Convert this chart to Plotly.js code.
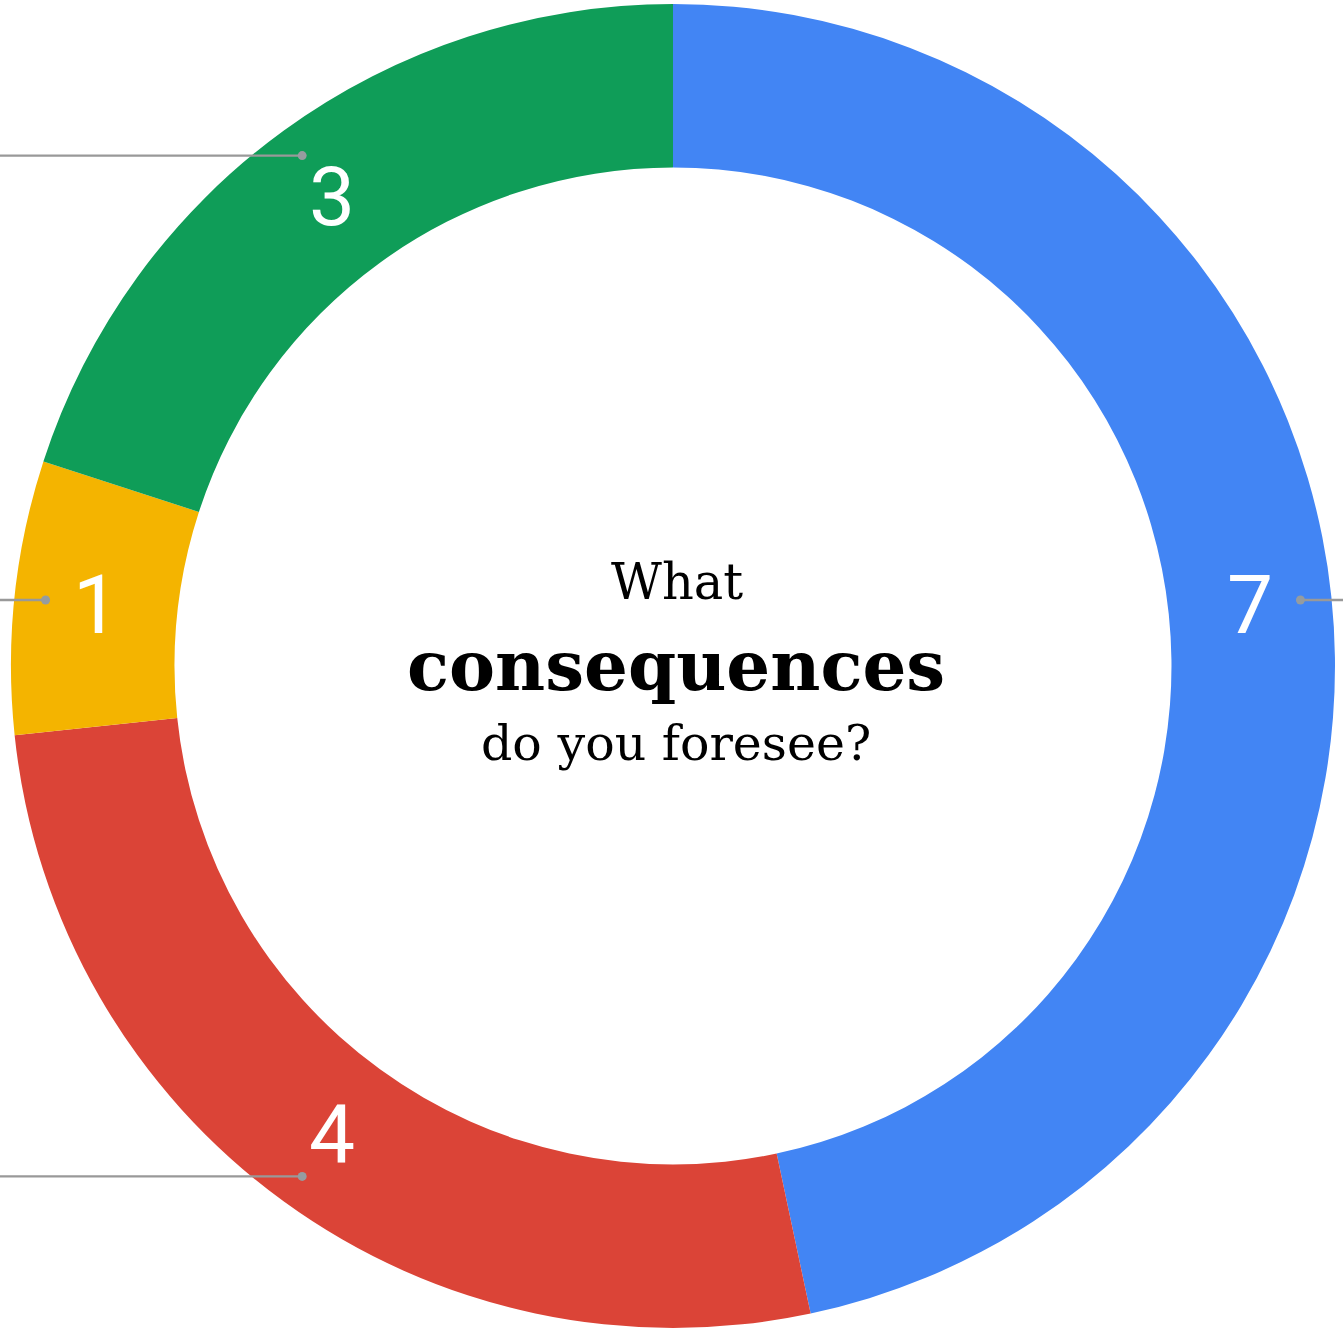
<!DOCTYPE html>
<html>
<head>
<meta charset="utf-8">
<script src="https://cdn.plot.ly/plotly-3.0.1.min.js"></script>
<style>html,body{margin:0;padding:0;background:#fff;}#chart{width:1343px;height:1332px;}</style>
</head>
<body>
<div id="chart"></div>
<script>
// Data
var categories = ["Answer A", "Answer B", "Answer C", "Answer D"];
var values = [7, 4, 1, 3];
var colors = ["#4285F4", "#DB4437", "#F4B400", "#0F9D58"];
var centerLines = ["What", "consequences", "do you foresee?"];

var W = 1343, H = 1332;
var cx = 673, cy = 666, R = 662;
var domX = [(cx - R) / W, (cx + R) / W];
var domY = [1 - (cy + R) / H, 1 - (cy - R) / H];

// Leader lines computed from the slice mid-angles
var total = values.reduce(function (a, b) { return a + b; }, 0);
var shapes = [];
var cum = 0;
for (var i = 0; i < values.length; i++) {
  var mid = (cum + values[i] / 2) / total * 2 * Math.PI;
  cum += values[i];
  var rDot = 0.953 * R;
  var px = cx + rDot * Math.sin(mid);
  var py = cy - rDot * Math.cos(mid);
  var xEnd = px < cx ? 0 : W;
  shapes.push({
    type: "line", xref: "paper", yref: "paper",
    x0: px / W, x1: xEnd / W, y0: 1 - py / H, y1: 1 - py / H,
    line: { color: "#999999", width: 2.4 }
  });
  var d = 4.5;
  shapes.push({
    type: "circle", xref: "paper", yref: "paper",
    x0: (px - d) / W, x1: (px + d) / W, y0: 1 - (py + d) / H, y1: 1 - (py - d) / H,
    fillcolor: "#959ca0", line: { width: 0 }
  });
}

var trace = {
  type: "pie",
  labels: categories,
  values: values,
  marker: { colors: colors, line: { width: 0 } },
  hole: 0.753,
  sort: false,
  direction: "clockwise",
  rotation: 0,
  textinfo: "value",
  textposition: "inside",
  insidetextorientation: "horizontal",
  insidetextfont: { family: "Roboto", size: 82, color: "#ffffff" },
  hoverinfo: "none",
  domain: { x: domX, y: domY }
};

var serif = "DejaVu Serif";
var layout = {
  width: W, height: H,
  margin: { l: 0, r: 0, t: 0, b: 0, pad: 0 },
  showlegend: false,
  paper_bgcolor: "#ffffff",
  shapes: shapes,
  annotations: [
    { text: centerLines[0], xref: "paper", yref: "paper", x: 677 / W, y: 1 - 582 / H,
      showarrow: false, font: { family: serif, size: 49.5, color: "#000" } },
    { text: "<b>" + centerLines[1] + "</b>", xref: "paper", yref: "paper", x: 676 / W, y: 1 - 665 / H,
      showarrow: false, font: { family: serif, size: 69, color: "#000" } },
    { text: centerLines[2], xref: "paper", yref: "paper", x: 676 / W, y: 1 - 743 / H,
      showarrow: false, font: { family: serif, size: 49, color: "#000" } }
  ]
};

Plotly.newPlot("chart", [trace], layout, { staticPlot: true, displayModeBar: false });
</script>
</body>
</html>
